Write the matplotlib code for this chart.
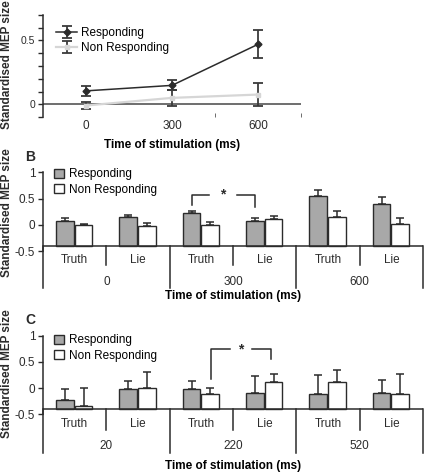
import numpy as np
import matplotlib.pyplot as plt
import matplotlib.transforms as mtransforms

plt.rcParams['font.family'] = ['Liberation Sans', 'DejaVu Sans']
plt.rcParams['axes.unicode_minus'] = False

# -------------------------
# Daten
# -------------------------

# Panel A
times_a = [0, 300, 600]
resp_a = [0.105, 0.148, 0.47]
resp_a_err = [0.04, 0.04, 0.11]
nonresp_a = [-0.01, 0.05, 0.076]
nonresp_a_err = [0.03, 0.06, 0.09]

# Panel B
conditions = ["Truth", "Lie", "Truth", "Lie", "Truth", "Lie"]
groups_b = ["0", "300", "600"]
resp_b = [0.08, 0.14, 0.23, 0.08, 0.54, 0.40]
resp_b_err = [0.05, 0.05, 0.04, 0.05, 0.13, 0.13]
nonresp_b = [0.0, -0.03, 0.0, 0.11, 0.15, 0.02]
nonresp_b_err = [0.02, 0.06, 0.06, 0.06, 0.12, 0.10]

# Panel C
groups_c = ["20", "220", "520"]
resp_c = [-0.22, -0.02, -0.025, -0.09, -0.115, -0.10]
resp_c_err = [0.20, 0.16, 0.16, 0.32, 0.36, 0.26]
nonresp_c = [-0.35, 0.0, -0.11, 0.115, 0.125, -0.12]
nonresp_c_err = [0.36, 0.31, 0.11, 0.15, 0.22, 0.39]

# -------------------------
# Stil
# -------------------------

W, H = 429, 474
FS = 8.5
DARK = "#2b2b2b"
GREY_BAR = "#a8a8a8"
LIGHT_LINE = "#d6d6d6"
BASE = -0.4


def box(left, top, right, bottom):
    return [left / W, 1 - bottom / H, (right - left) / W, (bottom - top) / H]


fig = plt.figure(figsize=(W / 100, H / 100), dpi=100, facecolor="white")

# -------------------------
# Panel A
# -------------------------

axA = fig.add_axes(box(43, 15, 301, 117))
axA.errorbar(times_a, resp_a, yerr=resp_a_err, color=DARK, lw=1.1,
             marker="D", ms=3.5, ecolor="#3a3a3a", elinewidth=1.3,
             capsize=3.5, capthick=1.3, label="Responding", zorder=3)
axA.errorbar(times_a, nonresp_a, yerr=nonresp_a_err, color=LIGHT_LINE, lw=1.6,
             marker="s", ms=3.5, ecolor="#3a3a3a", elinewidth=1.3,
             capsize=3.5, capthick=1.3, label="Non Responding", zorder=2)
axA.axhline(0, color="#555555", lw=1.2, zorder=1)
axA.set_xlim(-150, 750)
axA.set_ylim(-0.1, 0.7)
yt = np.arange(-0.1, 0.71, 0.1)
axA.set_yticks(yt)
axA.set_yticklabels(["0" if abs(v) < 1e-9 else ("0.5" if abs(v - 0.5) < 1e-9 else "")
                     for v in yt])
axA.set_xticks(times_a)
axA.set_xticklabels([str(t) for t in times_a])
axA.set_xticks([450, 750], minor=True)
axA.tick_params(axis="x", which="major", length=0, labelsize=FS, pad=2, colors=DARK)
axA.tick_params(axis="x", which="minor", length=3, direction="in", color="#555555")
axA.tick_params(axis="y", length=3.5, width=1, labelsize=7.5, pad=2, colors=DARK)
for s in ["top", "right", "bottom"]:
    axA.spines[s].set_visible(False)
axA.spines["left"].set_linewidth(1.1)
axA.spines["left"].set_color(DARK)
axA.set_facecolor("none")
axA.set_xlabel("Time of stimulation (ms)", fontsize=FS, fontweight="bold", labelpad=5)
axA.legend(loc="upper left", bbox_to_anchor=(0.05, 0.88), frameon=False,
           fontsize=FS, handlelength=1.8, handletextpad=0.3, borderpad=0,
           labelspacing=0.25, borderaxespad=0)


# -------------------------
# Hilfsfunktion: Balkenpanel
# -------------------------

def bar_panel(ax, resp, resp_err, nonresp, nonresp_err, groups,
              inner_low, outer_low, cond_y, group_y, legend_y):
    x = np.arange(len(conditions))
    resp = np.array(resp)
    nonresp = np.array(nonresp)
    w = 0.28
    ax.bar(x - 0.155, resp - BASE, bottom=BASE, width=w, color=GREY_BAR,
           edgecolor=DARK, lw=1.0, label="Responding", zorder=2)
    ax.bar(x + 0.14, nonresp - BASE, bottom=BASE, width=w, color="white",
           edgecolor=DARK, lw=1.0, label="Non Responding", zorder=2)
    ax.errorbar(x - 0.155, resp, yerr=[np.zeros(len(x)), resp_err], fmt="none",
                ecolor=DARK, elinewidth=1.1, capsize=3, capthick=1.1, zorder=1)
    ax.errorbar(x + 0.14, nonresp, yerr=[np.zeros(len(x)), nonresp_err], fmt="none",
                ecolor=DARK, elinewidth=1.1, capsize=3, capthick=1.1, zorder=1)

    ax.set_xlim(-0.5, len(x) - 0.5)
    ax.set_ylim(-0.5, 1)
    ax.axhline(BASE, color=DARK, lw=1.1, zorder=3)
    ax.set_yticks([-0.5, 0, 0.5, 1])
    ax.set_yticklabels(["-0.5", "0", "0.5", "1"])
    ax.set_xticks([])
    ax.tick_params(axis="y", length=3.5, width=1, labelsize=FS, pad=2, colors=DARK)
    for s in ["top", "right", "bottom"]:
        ax.spines[s].set_visible(False)
    ax.spines["left"].set_linewidth(1.1)
    ax.spines["left"].set_color(DARK)
    ax.set_facecolor("none")

    trans = mtransforms.blended_transform_factory(ax.transData, ax.transAxes)
    y_axis = (BASE + 0.5) / 1.5
    for i in range(len(x) + 1):
        xd = i - 0.5
        low = outer_low if i % 2 == 0 else inner_low
        ax.plot([xd, xd], [y_axis, low], transform=trans, color=DARK, lw=1.1,
                clip_on=False)
    for i, c in enumerate(conditions):
        ax.text(i, cond_y, c, transform=trans, ha="center", va="center",
                fontsize=FS, color=DARK)
    for j, g in enumerate(groups):
        ax.text(2 * j + 0.5, group_y, g, transform=trans, ha="center",
                va="center", fontsize=FS, color=DARK)

    ax.legend(loc="upper left", bbox_to_anchor=(0.03, legend_y), frameon=False,
              fontsize=FS, handlelength=0.8, handleheight=0.8, handletextpad=0.4,
              borderpad=0, labelspacing=0.3, borderaxespad=0)


def bracket(ax, x1, x2, y, low1, low2, gap):
    xm = (x1 + x2) / 2
    ax.plot([x1, x1, xm - gap], [low1, y, y], color=DARK, lw=1.1)
    ax.plot([xm + gap, x2, x2], [y, y, low2], color=DARK, lw=1.1)
    ax.text(xm, y, "*", ha="center", va="center", fontsize=10, color=DARK,
            fontweight="bold")


# -------------------------
# Panel B
# -------------------------

axB = fig.add_axes(box(43, 172.3, 423, 251))
bar_panel(axB, resp_b, resp_b_err, nonresp_b, nonresp_b_err, groups_b,
          inner_low=-0.18, outer_low=-0.47, cond_y=-0.115, group_y=-0.39,
          legend_y=1.05)
bracket(axB, 2 - 0.155, 3 - 0.155, 0.57, 0.38, 0.34, 0.22)
axB.set_xlabel("Time of stimulation (ms)", fontsize=FS, fontweight="bold",
               labelpad=28)

# -------------------------
# Panel C
# -------------------------

axC = fig.add_axes(box(43, 335.7, 423, 414.3))
bar_panel(axC, resp_c, resp_c_err, nonresp_c, nonresp_c_err, groups_c,
          inner_low=-0.2, outer_low=-0.49, cond_y=-0.127, group_y=-0.40,
          legend_y=1.02)
bracket(axC, 2 + 0.15, 3 + 0.1, 0.74, 0.17, 0.55, 0.18)
axC.set_xlabel("Time of stimulation (ms)", fontsize=FS, fontweight="bold",
               labelpad=33)

# -------------------------
# Beschriftungen
# -------------------------

for yc in [65, 213, 374]:
    fig.text(7 / W, 1 - yc / H, "Standardised MEP size", rotation=90,
             ha="center", va="center", fontsize=FS, fontweight="bold", color=DARK)

fig.text(30 / W, 1 - 3 / H, "A", ha="center", va="bottom", fontsize=10,
         fontweight="bold", color=DARK)
fig.text(30 / W, 1 - 156.7 / H, "B", ha="center", va="center", fontsize=10,
         fontweight="bold", color=DARK)
fig.text(30 / W, 1 - 320 / H, "C", ha="center", va="center", fontsize=10,
         fontweight="bold", color=DARK)

fig.savefig("out.png", dpi=100, facecolor="white")
